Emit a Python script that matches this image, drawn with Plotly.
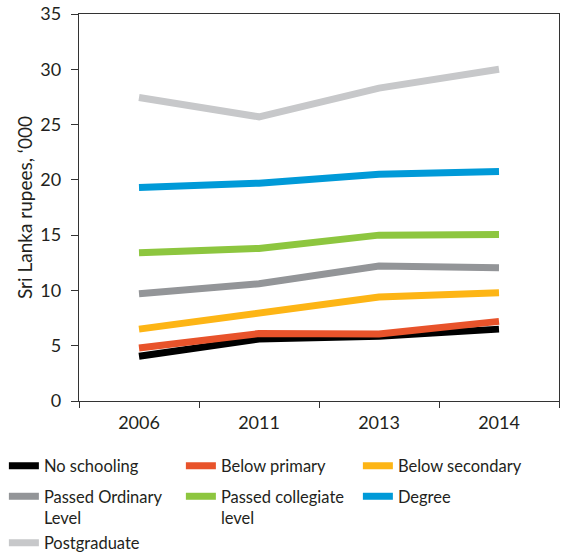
import plotly.graph_objects as go

# Sri Lanka average earnings by education level, '000 rupees
years = ["2006", "2011", "2013", "2014"]

no_schooling = [4.05, 5.6, 5.85, 6.5]
below_primary = [4.8, 6.1, 6.05, 7.2]
below_secondary = [6.5, 7.9, 9.4, 9.8]
passed_ordinary = [9.7, 10.6, 12.2, 12.05]
passed_collegiate = [13.4, 13.8, 15.0, 15.05]
degree = [19.3, 19.7, 20.5, 20.75]
postgraduate = [27.45, 25.7, 28.3, 30.0]

# (label, values, colour, legend row)
series = [
    ("No schooling", no_schooling, "#000000", "legend"),
    ("Below primary", below_primary, "#e8532b", "legend"),
    ("Below secondary", below_secondary, "#fdb515", "legend"),
    ("Passed Ordinary<br>Level", passed_ordinary, "#939598", "legend2"),
    ("Passed collegiate<br>level", passed_collegiate, "#8dc63f", "legend2"),
    ("Degree", degree, "#009ad8", "legend2"),
    ("Postgraduate", postgraduate, "#c7c8ca", "legend3"),
]

font = "Lato, 'Open Sans', sans-serif"
ink = "#231f20"

fig = go.Figure()
for name, vals, col, leg in series:
    fig.add_trace(go.Scatter(x=years, y=vals, name=name, mode="lines",
                             legend=leg, line={"color": col, "width": 7}))


def legend_row(ypos, valign="middle"):
    # one legend per row so the row spacing can be set by hand
    return {"orientation": "h", "x": -0.1565, "y": ypos,
            "xanchor": "left", "yanchor": "middle", "valign": valign,
            "entrywidth": 132, "entrywidthmode": "pixels",
            "traceorder": "normal", "font": {"size": 16.5, "color": ink},
            "itemwidth": 30, "bgcolor": "rgba(0,0,0,0)"}


fig.update_layout(
    width=561, height=554,
    margin={"l": 79, "r": 2, "t": 14, "b": 153, "autoexpand": False},
    paper_bgcolor="white", plot_bgcolor="white",
    font={"family": font, "size": 17, "color": ink},
    showlegend=True,
    legend=legend_row(-0.168),
    legend2=legend_row(-0.274, "top"),
    legend3=legend_row(-0.367),
    xaxis={"type": "category", "range": [-0.5, 3.5], "tickson": "boundaries",
           "ticks": "outside", "ticklen": 6, "tickcolor": "#333",
           "ticklabelstandoff": 5,
           "showline": True, "linecolor": "#333", "linewidth": 1.3,
           "mirror": True, "showgrid": False, "tickfont": {"size": 18}},
    yaxis={"range": [0, 35], "dtick": 5, "ticks": "outside", "ticklen": 7,
           "tickcolor": "#333", "ticklabelstandoff": 6,
           "showline": True, "linecolor": "#333",
           "linewidth": 1.3, "mirror": True, "showgrid": False,
           "zeroline": False, "tickfont": {"size": 18},
           "title": {"text": "Sri Lanka rupees, ‘000", "font": {"size": 19},
                     "standoff": 2}},
)

# drop the default page margin so the figure fills the window exactly
fig.write_html("out.html", config={"displayModeBar": False},
               post_script="document.body.style.margin='0';"
                           "document.body.style.overflow='hidden';")
